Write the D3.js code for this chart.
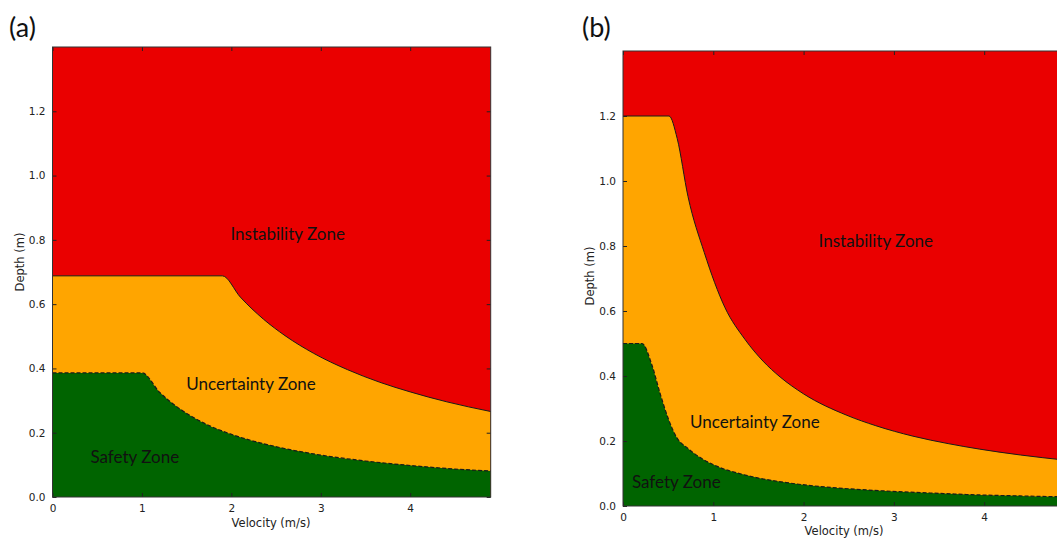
<!DOCTYPE html>
<html>
<head>
<meta charset="utf-8">
<script src="https://cdn.jsdelivr.net/npm/d3@7"></script>
<style>
  body { margin: 0; background: #fff; }
  svg { display: block; }
  .tick text { font-family: "DejaVu Sans", sans-serif; font-size: 10.5px; fill: #222; }
  .tick line { stroke: #222; }
</style>
</head>
<body>
<svg id="chart"></svg>
<script>
// size of the picture
const width = 1057;
const height = 538;

// tick labels
const velTicks = [0, 1, 2, 3, 4];
const depthTicks = [0, 0.2, 0.4, 0.6, 0.8, 1.0, 1.2];

// panel (a): uncertainty limit (solid) and safety limit (dashed)
const velA_unc = [0, 1.9, 2.1, 2.36, 2.6, 2.92, 3.3, 3.66, 4.0, 4.41, 4.9];
const depthA_unc = [0.688, 0.688, 0.622, 0.553, 0.502, 0.447, 0.396, 0.357, 0.327, 0.296, 0.266];
const velA_safe = [0, 1.0, 1.2, 1.43, 1.7, 1.98, 2.4, 2.92, 3.5, 4.04, 4.5, 4.9];
const depthA_safe = [0.386, 0.386, 0.325, 0.273, 0.229, 0.197, 0.163, 0.134, 0.112, 0.097, 0.087, 0.081];

// panel (b)
const velB_unc = [0, 0.51, 0.60, 0.72, 0.90, 1.13, 1.35, 1.55, 1.74, 2.0, 2.48, 2.8, 3.21, 3.6, 3.95, 4.4, 4.9];
const depthB_unc = [1.2, 1.2, 1.131, 0.952, 0.78, 0.61, 0.513, 0.446, 0.397, 0.345, 0.279, 0.247, 0.215, 0.192, 0.175, 0.157, 0.141];
const velB_safe = [0, 0.21, 0.32, 0.41, 0.5, 0.59, 0.72, 0.89, 1.05, 1.26, 1.5, 1.81, 2.18, 2.5, 2.85, 3.4, 3.95, 4.4, 4.9];
const depthB_safe = [0.5, 0.5, 0.434, 0.347, 0.27, 0.213, 0.177, 0.143, 0.121, 0.102, 0.086, 0.072, 0.060, 0.053, 0.047, 0.040, 0.034, 0.031, 0.028];

// zone names and where they sit (velocity, depth)
const zoneNames = ["Instability Zone", "Uncertainty Zone", "Safety Zone"];
const zonePosA = [[2.63, 0.80], [2.22, 0.333], [0.92, 0.106]];
const zonePosB = [[2.80, 0.797], [1.46, 0.24], [0.59, 0.055]];

const colRed = "#ea0000";
const colOrange = "#ffa500";
const colGreen = "#006400";

const svg = d3.select("#chart")
  .attr("width", width)
  .attr("height", height);

// draws one panel
function drawPanel(p) {
  const x = d3.scaleLinear().domain([0, 4.9]).range([p.left, p.right]);
  const y = d3.scaleLinear().domain([0, 1.4]).range([p.bottom, p.top]);
  const g = svg.append("g");

  const unc = p.velUnc.map((v, i) => [v, p.depthUnc[i]]);
  const safe = p.velSafe.map((v, i) => [v, p.depthSafe[i]]);

  // background = instability zone
  g.append("rect")
    .attr("x", x(0)).attr("y", y(1.4))
    .attr("width", x(4.9) - x(0)).attr("height", y(0) - y(1.4))
    .attr("fill", colRed);

  const area = d3.area()
    .x(d => x(d[0]))
    .y0(y(0))
    .y1(d => y(d[1]))
    .curve(d3.curveMonotoneX);
  const line = d3.line()
    .x(d => x(d[0]))
    .y(d => y(d[1]))
    .curve(d3.curveMonotoneX);

  g.append("path").datum(unc).attr("d", area).attr("fill", colOrange);
  g.append("path").datum(safe).attr("d", area).attr("fill", colGreen);

  g.append("path").datum(unc).attr("d", line)
    .attr("fill", "none").attr("stroke", "#1a1a1a").attr("stroke-width", 1);
  g.append("path").datum(safe).attr("d", line)
    .attr("fill", "none").attr("stroke", "#1a1a1a").attr("stroke-width", 1.2)
    .attr("stroke-dasharray", "4,2");

  // zone names
  zoneNames.forEach((name, i) => {
    g.append("text")
      .attr("x", x(p.zonePos[i][0]))
      .attr("y", y(p.zonePos[i][1]))
      .attr("text-anchor", "middle")
      .style("font-family", "Lato, 'Open Sans', sans-serif")
      .style("font-size", "17px")
      .style("fill", "#111")
      .text(name);
  });

  // axes, ticks pointing inwards like the old matplotlib style
  g.append("g").attr("transform", `translate(0,${y(0)})`)
    .call(d3.axisBottom(x).tickValues(velTicks).tickFormat(d3.format("d"))
      .tickSizeInner(-4).tickSizeOuter(0).tickPadding(8));
  g.append("g").attr("transform", `translate(${x(0)},0)`)
    .call(d3.axisLeft(y).tickValues(depthTicks).tickFormat(d3.format(".1f"))
      .tickSizeInner(-4).tickSizeOuter(0).tickPadding(7));
  g.append("g").attr("transform", `translate(0,${y(1.4)})`)
    .call(d3.axisTop(x).tickValues(velTicks).tickFormat("").tickSizeInner(-4).tickSizeOuter(0));
  g.append("g").attr("transform", `translate(${x(4.9)},0)`)
    .call(d3.axisRight(y).tickValues(depthTicks).tickFormat("").tickSizeInner(-4).tickSizeOuter(0));
  g.selectAll(".domain").remove();

  // frame
  g.append("rect")
    .attr("x", x(0)).attr("y", y(1.4))
    .attr("width", x(4.9) - x(0)).attr("height", y(0) - y(1.4))
    .attr("fill", "none").attr("stroke", "#333").attr("stroke-width", 1);

  // axis titles
  g.append("text")
    .attr("x", p.xLabelMid)
    .attr("y", p.xLabelY)
    .attr("text-anchor", "middle")
    .style("font-family", "DejaVu Sans, sans-serif")
    .style("font-size", "11.5px")
    .style("fill", "#222")
    .text("Velocity (m/s)");
  g.append("text")
    .attr("transform", `translate(${p.left - 29},${p.yLabelMid}) rotate(-90)`)
    .attr("text-anchor", "middle")
    .style("font-family", "DejaVu Sans, sans-serif")
    .style("font-size", "11.5px")
    .style("fill", "#222")
    .text("Depth (m)");

  // panel letter
  svg.append("text")
    .attr("x", p.letterX).attr("y", 37)
    .style("font-family", "Lato, 'Open Sans', sans-serif")
    .style("font-size", "27px")
    .style("fill", "#111")
    .text(p.letter);
}

drawPanel({
  left: 52.5, right: 490.7, top: 47, bottom: 497,
  velUnc: velA_unc, depthUnc: depthA_unc,
  velSafe: velA_safe, depthSafe: depthA_safe,
  zonePos: zonePosA, letter: "(a)", letterX: 9,
  xLabelMid: 271, xLabelY: 527, yLabelMid: 262
});

drawPanel({
  left: 623, right: 623 + 4.9 * 90.3, top: 51, bottom: 506,
  velUnc: velB_unc, depthUnc: depthB_unc,
  velSafe: velB_safe, depthSafe: depthB_safe,
  zonePos: zonePosB, letter: "(b)", letterX: 582,
  xLabelMid: 844, xLabelY: 535, yLabelMid: 276
});
</script>
</body>
</html>
